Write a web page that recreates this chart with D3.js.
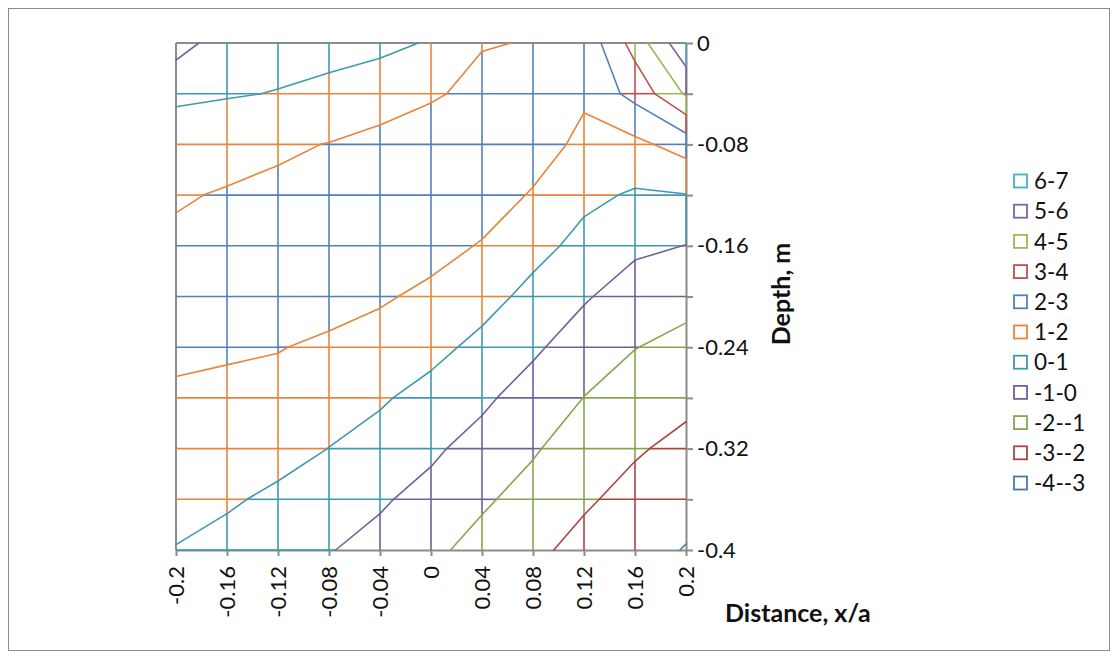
<!DOCTYPE html>
<html>
<head>
<meta charset="utf-8">
<script src="https://cdn.jsdelivr.net/npm/d3@7"></script>
<style>
  body { margin: 0; background: #fff; }
  svg { font-family: Lato, "Open Sans", sans-serif; }
</style>
</head>
<body>
<svg id="chart" width="1119" height="659"></svg>
<script>
// grid positions
const xValues = [-0.2, -0.16, -0.12, -0.08, -0.04, 0, 0.04, 0.08, 0.12, 0.16, 0.2]
const depths = [0, -0.04, -0.08, -0.12, -0.16, -0.2, -0.24, -0.28, -0.32, -0.36, -0.4]
const xTickLabels = ["-0.2", "-0.16", "-0.12", "-0.08", "-0.04", "0", "0.04", "0.08", "0.12", "0.16", "0.2"]
const depthTickLabels = ["0", "", "-0.08", "", "-0.16", "", "-0.24", "", "-0.32", "", "-0.4"]

// legend bands (top to bottom) and their colours
const bandNames = ["6-7", "5-6", "4-5", "3-4", "2-3", "1-2", "0-1", "-1-0", "-2--1", "-3--2", "-4--3"]
const bandLows = [6, 5, 4, 3, 2, 1, 0, -1, -2, -3, -4]
const bandColors = ["#4BACC6", "#8064A2", "#9BBB59", "#C0504D", "#4F81BD", "#E8853A",
                    "#3E9AB0", "#72609A", "#85A64E", "#AC4441", "#4A76AE"]

// surface values, one row per depth
const surface = [
  [-0.40, 0.49, 0.60, 0.70, 0.85, 1.05, 1.91, 2.07, 2.30, 4.40, 6.78],
  [0.78, 0.92, 1.04, 1.21, 1.35, 1.80, 2.45, 2.50, 2.27, 3.30, 5.12],
  [1.63, 1.72, 1.85, 2.03, 2.40, 2.90, 2.95, 2.84, 1.55, 1.76, 2.40],
  [1.93, 2.06, 2.21, 2.40, 2.60, 2.80, 2.90, 1.84, 1.24, 0.88, 0.97],
  [2.13, 2.30, 2.40, 2.50, 2.60, 2.64, 1.87, 1.36, 0.68, 0.25, -0.02],
  [2.25, 2.35, 2.40, 2.45, 2.23, 1.59, 1.42, 0.68, 0.14, -0.64, -0.75],
  [2.15, 2.15, 2.05, 1.79, 1.23, 1.33, 0.70, 0.22, -0.68, -0.98, -1.23],
  [1.89, 1.72, 1.63, 1.35, 1.13, 0.62, 0.24, -0.58, -1.01, -1.40, -1.60],
  [1.50, 1.40, 1.30, 0.99, 0.59, 0.20, -0.45, -0.90, -1.49, -1.82, -2.45],
  [1.25, 1.11, 0.83, 0.50, 0.13, -0.36, -0.86, -1.35, -1.77, -2.54, -2.85],
  [0.97, 0.72, 0.40, 0.05, -0.33, -0.80, -1.32, -1.65, -2.51, -2.85, -3.02]
]
const contourLevels = [-3, -2, -1, 0, 1, 2, 3, 4, 5, 6]

const svg = d3.select("#chart")

const x = d3.scaleLinear().domain([-0.2, 0.2]).range([176, 686])
const y = d3.scaleLinear().domain([0, -0.4]).range([43, 550])
const color = d3.scaleOrdinal().domain(bandLows).range(bandColors)
const axisGray = "#8c8c8c"

const line = d3.line().x(p => x(p[0])).y(p => y(p[1]))
const lerp = (a, b, t) => [a[0] + (b[0] - a[0]) * t, a[1] + (b[1] - a[1]) * t]

// outer chart border
svg.append("rect")
  .attr("x", 8.5).attr("y", 8.5)
  .attr("width", 1101).attr("height", 642)
  .attr("fill", "none")
  .attr("stroke", axisGray)
  .attr("stroke-width", 1)

// plot frame (left + top), right/bottom come from the axes below
svg.append("line")
  .attr("x1", x(-0.2)).attr("x2", x(-0.2))
  .attr("y1", y(0)).attr("y2", y(-0.4))
  .attr("stroke", axisGray).attr("stroke-width", 2)
svg.append("line")
  .attr("x1", x(-0.2)).attr("x2", x(0.2))
  .attr("y1", y(0)).attr("y2", y(0))
  .attr("stroke", axisGray).attr("stroke-width", 2)

const yAxis = d3.axisRight(y)
  .tickValues(depths)
  .tickFormat((d, i) => depthTickLabels[i])
  .tickSizeInner(7)
  .tickSizeOuter(0)
  .tickPadding(4)

const yAxisG = svg.append("g")
  .attr("transform", "translate(" + x(0.2) + ",0)")
  .call(yAxis)
yAxisG.select(".domain").attr("stroke", axisGray).attr("stroke-width", 2)
yAxisG.selectAll(".tick line").attr("stroke", axisGray).attr("stroke-width", 2)
yAxisG.selectAll("text")
  .attr("font-size", 22)
  .attr("font-family", "Lato")
  .attr("fill", "#111")

const xAxis = d3.axisBottom(x)
  .tickValues(xValues)
  .tickFormat((d, i) => xTickLabels[i])
  .tickSizeInner(6)
  .tickSizeOuter(0)

const xAxisG = svg.append("g")
  .attr("transform", "translate(0," + y(-0.4) + ")")
  .call(xAxis)
xAxisG.select(".domain").attr("stroke", axisGray).attr("stroke-width", 2)
xAxisG.selectAll(".tick line").attr("stroke", axisGray).attr("stroke-width", 2)
xAxisG.selectAll("text")
  .attr("transform", "rotate(-90)")
  .attr("text-anchor", "end")
  .attr("x", -16)
  .attr("y", 0)
  .attr("dy", "0.36em")
  .attr("font-size", 22)
  .attr("font-family", "Lato")
  .attr("fill", "#111")

// split one grid edge into pieces, one per band
function edgePieces(p0, p1, z0, z1) {
  const lo = Math.min(z0, z1), hi = Math.max(z0, z1)
  const ts = [0, 1]
  for (let k = Math.ceil(lo); k <= Math.floor(hi); k++) {
    if (k > lo && k < hi) ts.push((k - z0) / (z1 - z0))
  }
  ts.sort((a, b) => a - b)
  const pieces = []
  for (let n = 0; n < ts.length - 1; n++) {
    const zm = z0 + (z1 - z0) * (ts[n] + ts[n + 1]) / 2
    pieces.push({ pts: [lerp(p0, p1, ts[n]), lerp(p0, p1, ts[n + 1])], low: Math.floor(zm) })
  }
  return pieces
}

const nx = xValues.length, nd = depths.length
let gridPieces = []
// horizontal grid lines (top row is hidden by the frame)
for (let j = 1; j < nd; j++) {
  for (let i = 0; i < nx - 1; i++) {
    let pcs = edgePieces([xValues[i], depths[j]], [xValues[i + 1], depths[j]], surface[j][i], surface[j][i + 1])
    if (j === nd - 1) pcs = pcs.filter(p => p.low >= 0)
    gridPieces = gridPieces.concat(pcs)
  }
}
// vertical grid lines (left column hidden by the frame)
for (let i = 1; i < nx; i++) {
  for (let j = 0; j < nd - 1; j++) {
    let pcs = edgePieces([xValues[i], depths[j]], [xValues[i], depths[j + 1]], surface[j][i], surface[j + 1][i])
    if (i === nx - 1) pcs = pcs.filter(p => p.low >= 0)
    gridPieces = gridPieces.concat(pcs)
  }
}

svg.append("g")
  .selectAll("path")
  .data(gridPieces)
  .join("path")
  .attr("d", p => line(p.pts))
  .attr("fill", "none")
  .attr("stroke", p => color(p.low))
  .attr("stroke-width", 1.6)
  .attr("stroke-linecap", "butt")

// contour lines by marching squares
function crossing(pa, pb, za, zb, v) {
  if ((za - v) * (zb - v) >= 0) return null
  return lerp(pa, pb, (v - za) / (zb - za))
}

const contourSegs = []
contourLevels.forEach(v => {
  for (let j = 0; j < nd - 1; j++) {
    for (let i = 0; i < nx - 1; i++) {
      const pTL = [xValues[i], depths[j]], pTR = [xValues[i + 1], depths[j]]
      const pBL = [xValues[i], depths[j + 1]], pBR = [xValues[i + 1], depths[j + 1]]
      const zTL = surface[j][i], zTR = surface[j][i + 1]
      const zBL = surface[j + 1][i], zBR = surface[j + 1][i + 1]
      const top = crossing(pTL, pTR, zTL, zTR, v)
      const right = crossing(pTR, pBR, zTR, zBR, v)
      const bottom = crossing(pBL, pBR, zBL, zBR, v)
      const left = crossing(pTL, pBL, zTL, zBL, v)
      const found = [top, right, bottom, left].filter(p => p)
      if (found.length === 2) {
        contourSegs.push({ pts: found, low: v - 1 })
      } else if (found.length === 4) {
        const centre = (zTL + zTR + zBL + zBR) / 4
        if ((centre - v) * (zTL - v) > 0) {
          contourSegs.push({ pts: [top, right], low: v - 1 })
          contourSegs.push({ pts: [bottom, left], low: v - 1 })
        } else {
          contourSegs.push({ pts: [top, left], low: v - 1 })
          contourSegs.push({ pts: [right, bottom], low: v - 1 })
        }
      }
    }
  }
})

svg.append("g")
  .selectAll("path")
  .data(contourSegs)
  .join("path")
  .attr("d", s => line(s.pts))
  .attr("fill", "none")
  .attr("stroke", s => color(s.low))
  .attr("stroke-width", 1.6)
  .attr("stroke-linecap", "round")

// axis titles
svg.append("text")
  .attr("transform", "translate(790,294) rotate(-90)")
  .attr("text-anchor", "middle")
  .attr("font-family", "Lato")
  .attr("font-weight", "bold")
  .attr("font-size", 25)
  .attr("fill", "#111")
  .text("Depth, m")

svg.append("text")
  .attr("x", 725)
  .attr("y", 622)
  .attr("font-family", "Lato")
  .attr("font-weight", "bold")
  .attr("font-size", 25)
  .attr("fill", "#111")
  .text("Distance, x/a")

// legend
const legend = svg.append("g").attr("transform", "translate(1014,181)")
const items = legend.selectAll("g")
  .data(bandNames)
  .join("g")
  .attr("transform", (d, i) => "translate(0," + (i * 30.2) + ")")

items.append("rect")
  .attr("x", 0).attr("y", -6.5)
  .attr("width", 13).attr("height", 13)
  .attr("fill", "#fff")
  .attr("stroke", (d, i) => bandColors[i])
  .attr("stroke-width", 1.8)

items.append("text")
  .attr("x", 20)
  .attr("y", 0)
  .attr("dy", "0.36em")
  .attr("font-family", "Lato")
  .attr("font-size", 22.5)
  .attr("fill", "#111")
  .text(d => d)
</script>
</body>
</html>
